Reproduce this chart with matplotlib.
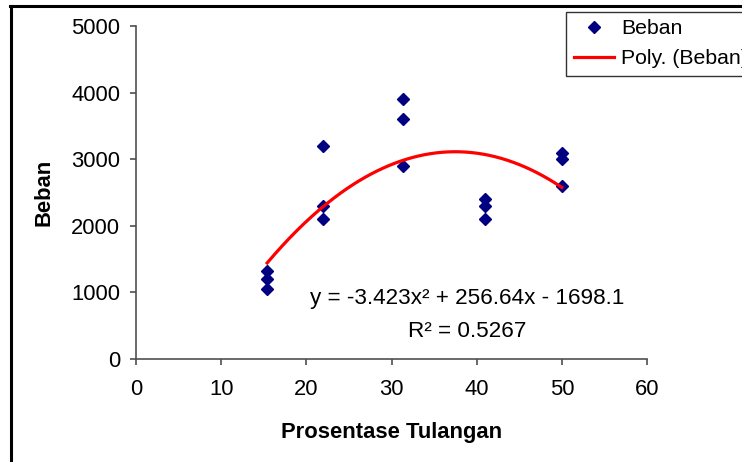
import numpy as np
import matplotlib.pyplot as plt
from matplotlib.lines import Line2D

plt.rcParams['font.family'] = ['Liberation Sans', 'DejaVu Sans']

# Prosentase tulangan vs beban (three specimens per ratio)
prosentase = [15.4, 15.4, 15.4, 22.0, 22.0, 22.0, 31.3, 31.3, 31.3,
              41.0, 41.0, 41.0, 50.0, 50.0, 50.0]
beban = [1050, 1200, 1320, 2100, 2300, 3200, 2900, 3600, 3900,
         2100, 2300, 2400, 2600, 3000, 3100]

# second order trendline coefficients (a x^2 + b x + c)
coef = [-3.423, 256.64, -1698.1]
r_squared = 0.5267

x_ticks = [0, 10, 20, 30, 40, 50, 60]
y_ticks = [0, 1000, 2000, 3000, 4000, 5000]

fig = plt.figure(figsize=(7.42, 4.62), dpi=100)
ax = fig.add_axes([0.1833, 0.2229, 0.6887, 0.7208])

ax.plot(prosentase, beban, linestyle='none', marker='D', markersize=6.0,
        color='#000080', label='Beban')

xs = np.linspace(min(prosentase), max(prosentase), 200)
ax.plot(xs, np.polyval(coef, xs), color='#ff0000', linewidth=2.3,
        label='Poly. (Beban)')

ax.set_xlim(0, 60)
ax.set_ylim(0, 5000)
ax.set_xticks(x_ticks)
ax.set_yticks(y_ticks)
ax.tick_params(direction='out', length=4.5, width=1.1, color='#404040',
               labelsize=15.8)
ax.tick_params(axis='x', pad=10)
ax.tick_params(axis='y', pad=7)
for side in ['top', 'right']:
    ax.spines[side].set_visible(False)
for side in ['left', 'bottom']:
    ax.spines[side].set_color('#505050')
    ax.spines[side].set_linewidth(1.2)

ax.set_xlabel('Prosentase Tulangan', fontsize=15.8, fontweight='bold', labelpad=16)
ax.set_ylabel('Beban', fontsize=15.8, fontweight='bold', labelpad=12)

eq = 'y = %.3fx² + %.2fx - %.1f' % (coef[0], coef[1], -coef[2])
ax.text(38.85, 826, eq, ha='center', va='baseline', fontsize=16.2)
ax.text(38.9, 335, 'R² = %.4f' % r_squared, ha='center', va='baseline',
        fontsize=16.2)

# legend box runs off the right edge of the chart area
fig.legend(loc='upper left', bbox_to_anchor=(0.763, 0.974), borderaxespad=0,
           fontsize=15.3, frameon=True, fancybox=False, edgecolor='black',
           handlelength=1.9, handletextpad=0.35, labelspacing=0.5,
           borderpad=0.35, numpoints=1)

# outer chart frame
fig.add_artist(Line2D([0.0142, 0.0142], [0.0, 0.987], color='black',
                      linewidth=2.2, transform=fig.transFigure))
fig.add_artist(Line2D([0.0135, 1.0], [0.986, 0.986], color='black',
                      linewidth=2.2, transform=fig.transFigure))

fig.savefig('out.png', dpi=100)
